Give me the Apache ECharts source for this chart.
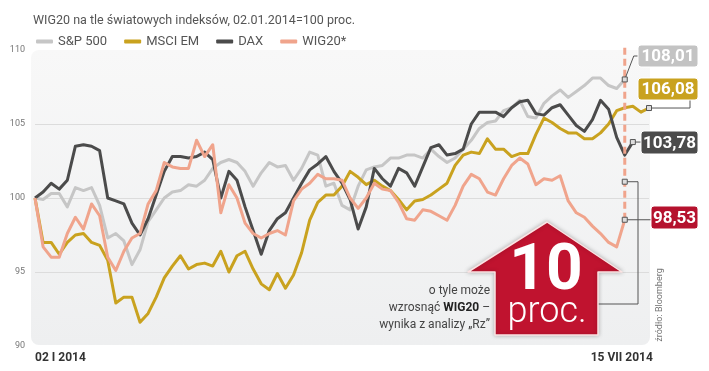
<!DOCTYPE html>
<html>
<head>
<meta charset="utf-8">
<script src="https://cdn.jsdelivr.net/npm/echarts@6.0.0/dist/echarts.min.js"></script>
<style>
html, body { margin: 0; padding: 0; background: #fff; }
#main { width: 709px; height: 371px; }
</style>
</head>
<body>
<div id="main"></div>
<script>
// index values, 02.01.2014 = 100 (~every 3rd session)
const sp500 = [100.0, 99.9, 100.3, 100.3, 99.4, 100.7, 100.5, 100.7, 99.5, 97.3,
  97.6, 97.1, 95.5, 96.5, 98.4, 99.2, 100.0, 100.4, 100.5, 100.9,
  100.8, 101.2, 102.0, 102.4, 102.6, 102.4, 101.8, 100.8, 101.7, 102.4,
  102.1, 102.2, 101.2, 102.0, 103.1, 102.9, 100.8, 101.0, 99.5, 99.2,
  100.8, 101.9, 102.1, 102.2, 102.7, 102.7, 102.9, 102.9, 102.7, 103.3,
  102.8, 102.4, 102.7, 103.3, 103.9, 104.7, 105.1, 105.2, 105.9, 106.1,
  106.6, 105.5, 105.4, 106.4, 106.9, 107.3, 106.8, 107.2, 107.6, 108.1,
  108.1, 107.6, 107.4, 108.01];
const msciEm = [100.0, 97.0, 97.0, 96.2, 97.0, 97.5, 97.6, 97.0, 96.8, 95.8,
  92.9, 93.3, 93.3, 91.6, 92.2, 93.3, 94.6, 95.4, 96.1, 95.2,
  95.5, 95.6, 95.4, 96.4, 95.0, 96.1, 96.4, 95.2, 94.2, 93.8,
  94.9, 93.9, 94.8, 96.3, 98.5, 99.7, 100.2, 100.2, 100.8, 101.8,
  101.4, 100.9, 101.2, 100.8, 100.5, 99.9, 99.2, 99.8, 99.9, 100.2,
  100.6, 101.0, 102.2, 102.9, 103.1, 103.0, 104.0, 103.3, 103.3, 102.8,
  103.0, 103.0, 104.3, 105.4, 105.1, 104.7, 104.4, 104.4, 104.0, 104.0,
  104.4, 105.0, 105.9, 106.1, 106.2, 105.8, 106.08];
const dax = [100.0, 100.4, 101.0, 100.6, 101.2, 103.5, 103.6, 103.5, 103.2, 100.0,
  99.8, 99.6, 98.3, 97.5, 98.6, 100.2, 101.8, 102.8, 102.8, 102.7,
  102.8, 103.1, 102.6, 100.0, 101.8, 101.2, 99.4, 97.8, 96.2, 97.8,
  98.6, 99.0, 100.0, 101.0, 101.9, 102.3, 102.8, 101.8, 101.0, 99.9,
  97.9, 99.4, 102.0, 101.3, 100.8, 102.0, 101.7, 100.8, 102.1, 103.4,
  103.6, 102.9, 103.0, 103.3, 105.0, 105.8, 105.8, 105.8, 105.5, 106.1,
  106.5, 106.6, 105.7, 105.6, 106.1, 106.3, 105.6, 104.9, 104.5, 105.3,
  106.6, 106.0, 104.1, 102.9, 103.78];
const wig20 = [100.0, 96.7, 96.0, 96.0, 97.6, 98.7, 97.9, 99.6, 98.8, 96.0,
  95.1, 96.4, 97.3, 97.6, 99.6, 100.5, 102.4, 102.1, 102.0, 102.0,
  103.9, 102.8, 103.6, 99.0, 100.9, 100.0, 98.3, 97.6, 97.3, 97.6,
  97.8, 97.5, 99.8, 100.6, 101.0, 101.6, 101.3, 101.3, 101.2, 100.0,
  99.3, 100.0, 101.0, 100.6, 100.5, 99.7, 98.6, 98.5, 99.2, 99.1,
  98.8, 98.5, 99.5, 100.8, 101.6, 101.3, 100.4, 100.2, 101.3, 102.2,
  102.7, 102.3, 100.9, 101.3, 101.2, 101.5, 99.8, 99.0, 98.7, 98.1,
  97.6, 97.0, 96.7, 98.53];

const seriesNames = ['S&P 500', 'MSCI EM', 'DAX', 'WIG20*'];
const seriesColors = ['#c6c6c6', '#c9a21f', '#4b4b4b', '#f0a48c'];
const endLabels = ['108,01', '106,08', '103,78', '98,53'];
const tickIdx = [0, 73];
const tickLabels = ['02 I 2014', '15 VII 2014'];
const yTicks = [90, 95, 100, 105, 110];
const wigTarget = 110.3;   // top of the dashed projection
const arrowAnchor = 101.1; // dot tied to the "10 proc." arrow

const categories = msciEm.map((_, i) => String(i));
const font = 'Roboto, sans-serif';

let chart = echarts.init(document.getElementById('main'));

const allData = [sp500, msciEm, dax, wig20];

let option = {
  animation: false,
  title: {
    text: 'WIG20 na tle światowych indeksów, 02.01.2014=100 proc.',
    left: 28, top: 9,
    textStyle: { fontFamily: font, fontSize: 12.5, fontWeight: 'normal', color: '#555' }
  },
  legend: {
    data: seriesNames,
    left: 31, top: 30,
    icon: 'roundRect', itemWidth: 17, itemHeight: 4, itemGap: 17,
    textStyle: { fontFamily: font, fontSize: 13, color: '#555' }
  },
  grid: { left: 35, top: 50, width: 614, height: 296 },
  xAxis: {
    type: 'category',
    data: categories,
    boundaryGap: false,
    axisLine: { show: false },
    axisTick: { show: false },
    axisLabel: { show: false },
    splitLine: { show: false }
  },
  yAxis: {
    type: 'value',
    min: yTicks[0], max: yTicks[yTicks.length - 1], interval: 5,
    axisLine: { show: false },
    axisTick: { show: false },
    axisLabel: { margin: 10, fontFamily: font, fontSize: 9, color: '#777', padding: [6, 0, 0, 0] },
    splitLine: {
      lineStyle: { color: ['transparent', '#dcdcdc', '#dcdcdc', '#dcdcdc', 'transparent'], width: 1 }
    }
  },
  series: seriesNames.map((name, k) => ({
    name: name,
    type: 'line',
    data: allData[k],
    color: seriesColors[k],
    symbol: 'none',
    clip: false,
    lineStyle: { width: 3, color: seriesColors[k], join: 'round' },
    z: 2 + k
  }))
};

chart.setOption(option);

// decorations placed from the data positions
const px = (i, v) => chart.convertToPixel({ gridIndex: 0 }, [i, v]);
const last = arr => px(arr.length - 1, arr[arr.length - 1]);
const spEnd = last(sp500), emEnd = last(msciEm), daxEnd = last(dax), wigEnd = last(wig20);
const anchor = px(wig20.length - 1, arrowAnchor);
const wigTop = px(wig20.length - 1, wigTarget);

const lineCol = '#555';
function poly(points) {
  return { type: 'polyline', z: 50, shape: { points: points }, style: { stroke: lineCol, lineWidth: 1, fill: null } };
}
function dot(p) {
  return { type: 'rect', z: 51, shape: { x: p[0] - 2.5, y: p[1] - 2.5, width: 5, height: 5 }, style: { fill: '#ddd', stroke: lineCol, lineWidth: 1 } };
}
function box(x, y, w, h, color, text) {
  return [
    { type: 'rect', z: 52, shape: { x: x, y: y, width: w, height: h, r: 3 }, style: { fill: color, stroke: '#fff', lineWidth: 1 } },
    { type: 'text', z: 53, x: x + w / 2, y: y + h / 2 + 1,
      style: { text: text, fill: '#fff', font: 'bold 17px ' + font, align: 'center', verticalAlign: 'middle' } }
  ];
}

const arrowRed = '#c0132f';
const bg = {
  type: 'rect', z: -10,
  shape: { x: 31, y: 50, width: 619, height: 295, r: 8 },
  style: {
    fill: new echarts.graphic.LinearGradient(0, 0, 0, 1, [
      { offset: 0, color: '#f8f8f8' }, { offset: 1, color: '#eeeff0' }
    ])
  }
};

const graphics = [bg,
  { type: 'line', z: 45, shape: { x1: wigEnd[0], y1: wigEnd[1], x2: wigTop[0], y2: wigTop[1] },
    style: { stroke: seriesColors[3], lineWidth: 3, lineDash: [7, 4] } },
  poly([spEnd, [spEnd[0] + 9, 56], [638, 56]]),
  poly([emEnd, [690, emEnd[1]], [690, 100]]),
  poly([daxEnd, [641, daxEnd[1]]]),
  poly([wigEnd, [651, wigEnd[1]]]),
  poly([anchor, [638, anchor[1]], [638, 304], [598, 304]]),
  dot(spEnd), dot(emEnd), dot(daxEnd), dot(wigEnd), dot(anchor),
  ...box(638, 45, 60, 22, '#c3c3c3', endLabels[0]),
  ...box(638, 78, 60, 22, '#c9a21f', endLabels[1]),
  ...box(641, 131, 57, 23, '#4b4b4b', endLabels[2]),
  ...box(651, 206, 47, 23, '#b5122e', endLabels[3]),
  {
    type: 'polygon', z: 60,
    shape: { points: [[547, 222], [622, 272], [598, 272], [598, 335], [495, 335], [495, 272], [468, 272]] },
    style: { fill: arrowRed, stroke: '#fbe3e3', lineWidth: 1.5, lineJoin: 'round', shadowBlur: 4, shadowColor: 'rgba(0,0,0,0.25)' }
  },
  { type: 'text', z: 61, x: 546, y: 273,
    style: { text: '10', fill: '#fff', font: 'bold 64px ' + font, align: 'center', verticalAlign: 'middle' } },
  { type: 'text', z: 61, x: 547, y: 313,
    style: { text: 'proc.', fill: '#fff', font: '300 36px ' + font, align: 'center', verticalAlign: 'middle' } },
  { type: 'text', z: 61, x: 490, y: 291,
    style: { text: 'o tyle może', fill: '#444', font: '12px ' + font, align: 'right', verticalAlign: 'middle' } },
  { type: 'text', z: 61, x: 490, y: 308,
    style: {
      text: '{a|wzrosnąć }{b|WIG20}{a| –}', align: 'right', verticalAlign: 'middle',
      rich: { a: { fill: '#444', font: '12px ' + font }, b: { fill: '#222', font: 'bold 12px ' + font } }
    } },
  { type: 'text', z: 61, x: 490, y: 325,
    style: { text: 'wynika z analizy „Rz”', fill: '#444', font: '12px ' + font, align: 'right', verticalAlign: 'middle' } },
  { type: 'text', z: 61, x: 660, y: 305, rotation: Math.PI / 2,
    style: { text: 'źródło: Bloomberg', fill: '#777', font: '9px ' + font, align: 'center', verticalAlign: 'middle' } }
];

// x tick labels
tickIdx.forEach((idx, j) => {
  const p = px(idx, yTicks[0]);
  graphics.push({ type: 'text', z: 61, x: j === 0 ? p[0] : p[0] - 3, y: 358,
    style: { text: tickLabels[j], fill: '#333', font: 'bold 12px ' + font, align: j === 0 ? 'left' : 'center', verticalAlign: 'middle' } });
});

chart.setOption({ graphic: graphics });

window.onresize = () => {
  chart.resize();
};
</script>
</body>
</html>
